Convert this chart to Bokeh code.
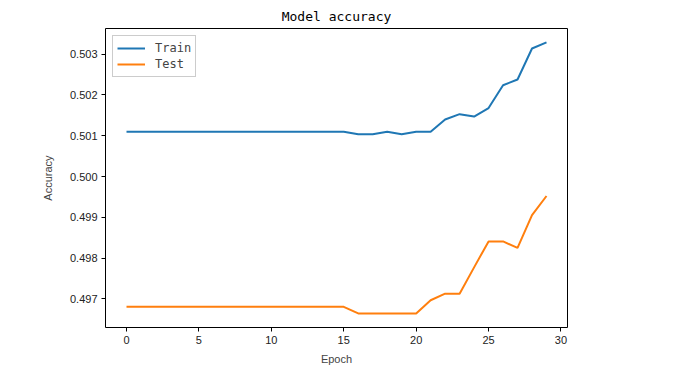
from bokeh.plotting import figure
from bokeh.embed import file_html
from bokeh.resources import INLINE
from bokeh.models import Range1d, FixedTicker, Legend, LegendItem, PrintfTickFormatter

epochs = list(range(30))
train_acc = [0.50110] * 16 + [0.50104, 0.50104, 0.50110, 0.50104, 0.50110, 0.50110,
                              0.50140, 0.50153, 0.50147, 0.50168, 0.50224, 0.50238,
                              0.50314, 0.50329]
test_acc = [0.496806] * 16 + [0.496645, 0.496645, 0.496645, 0.496645, 0.496645, 0.496968,
                              0.497129, 0.497129, 0.497774, 0.498411, 0.498411, 0.498250,
                              0.499056, 0.499524]
x_ticks = [0, 5, 10, 15, 20, 25, 30]
y_ticks = [0.497, 0.498, 0.499, 0.500, 0.501, 0.502, 0.503]

p = figure(width=659, height=376, output_backend="svg", toolbar_location=None,
           x_range=Range1d(-1.45, 30.45), y_range=Range1d(0.49630, 0.50363),
           min_border_left=105, min_border_right=92, min_border_top=28, min_border_bottom=49,
           title="Model accuracy")
p.title.align = "center"
p.title.text_font = "DejaVu Sans Mono"
p.title.text_font_size = "13px"
p.title.text_font_style = "normal"
p.title.text_color = "black"
p.title.standoff = 10

p.outline_line_color = "black"
p.outline_line_width = 1
p.xgrid.visible = False
p.ygrid.visible = False
p.background_fill_color = "white"
p.border_fill_color = "white"

l1 = p.line(epochs, train_acc, line_color="#1f77b4", line_width=2)
l2 = p.line(epochs, test_acc, line_color="#ff7f0e", line_width=2)

for ax in (p.xaxis[0], p.yaxis[0]):
    ax.axis_line_color = None
    ax.major_tick_out = 4
    ax.major_tick_in = 0
    ax.minor_tick_line_color = None
    ax.major_label_text_font = "Liberation Sans"
    ax.major_label_text_font_size = "11px"
    ax.major_label_text_color = "#222222"
    ax.axis_label_text_font = "Liberation Sans"
    ax.axis_label_text_font_size = "11px"
    ax.axis_label_text_font_style = "normal"
    ax.major_label_standoff = 4

p.xaxis.ticker = FixedTicker(ticks=x_ticks)
p.yaxis.ticker = FixedTicker(ticks=y_ticks)
p.yaxis.formatter = PrintfTickFormatter(format="%.3f")
p.xaxis.axis_label = "Epoch"
p.yaxis.axis_label = "Accuracy"
p.xaxis.axis_label_standoff = 6
p.yaxis.axis_label_standoff = 13

legend = Legend(items=[LegendItem(label="Train", renderers=[l1]),
                       LegendItem(label="Test", renderers=[l2])],
                location="top_left")
legend.label_text_font = "DejaVu Sans Mono"
legend.label_text_font_size = "12px"
legend.border_line_color = "#cccccc"
legend.border_line_alpha = 1
legend.background_fill_alpha = 0.8
legend.glyph_width = 28
legend.glyph_height = 16
legend.label_standoff = 10
legend.spacing = 0
legend.padding = 4
legend.margin = 7
p.add_layout(legend)

open("out.html", "w").write(file_html(p, INLINE))
